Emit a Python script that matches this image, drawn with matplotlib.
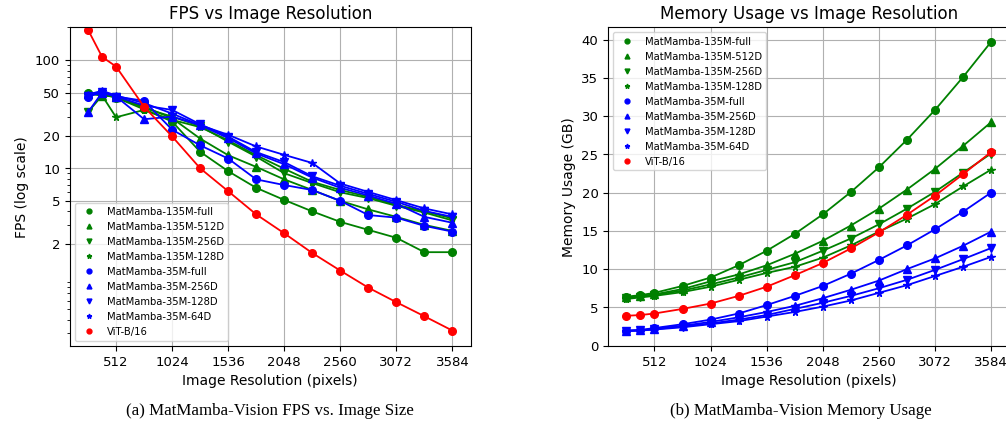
import matplotlib
matplotlib.use("Agg")
import matplotlib.pyplot as plt
from matplotlib.lines import Line2D
from matplotlib.ticker import NullFormatter, FixedLocator, FixedFormatter

# ---------------- data ----------------
resolution = [256, 384, 512, 768, 1024, 1280, 1536, 1792, 2048, 2304, 2560, 2816, 3072, 3328, 3584]
xtick_vals = [512, 1024, 1536, 2048, 2560, 3072, 3584]
fps_ticks = [2, 5, 10, 20, 50, 100]
mem_ticks = [0, 5, 10, 15, 20, 25, 30, 35, 40]

labels = ["MatMamba-135M-full", "MatMamba-135M-512D", "MatMamba-135M-256D", "MatMamba-135M-128D",
          "MatMamba-35M-full", "MatMamba-35M-256D", "MatMamba-35M-128D", "MatMamba-35M-64D", "ViT-B/16"]
colors = ["green", "green", "green", "green", "blue", "blue", "blue", "blue", "red"]
markers = ["o", "^", "v", "*", "o", "^", "v", "*", "o"]

fps_135m_full = [50, 48, 45, 35, 27, 14.2, 9.4, 6.6, 5.1, 4.0, 3.2, 2.7, 2.28, 1.68, 1.68]
fps_135m_512d = [49, 47, 46, 37, 29, 18.8, 13.2, 10.3, 7.9, 6.3, 5.0, 4.17, 3.56, 3.0, 2.64]
fps_135m_256d = [33, 47, 46, 36, 30, 24.5, 17.6, 12.8, 9.0, 7.3, 6.0, 5.3, 4.5, 3.9, 3.30]
fps_135m_128d = [50, 47, 29.6, 34.6, 28, 24.0, 18.1, 13.2, 9.9, 7.5, 6.3, 5.45, 4.6, 4.0, 3.45]
fps_35m_full = [46, 50, 46, 42, 22.7, 16.3, 12.3, 7.9, 7.0, 6.3, 5.0, 3.7, 3.5, 2.94, 2.60]
fps_35m_256d = [33, 50, 46, 28.4, 30, 25.0, 19.0, 13.7, 10.9, 8.2, 6.6, 5.6, 4.7, 3.56, 3.14]
fps_35m_128d = [47, 51, 46, 38, 34.6, 25.5, 19.6, 14.1, 11.4, 8.44, 6.9, 5.8, 4.9, 4.04, 3.56]
fps_35m_64d = [48, 52, 47, 40, 32, 25.0, 20.4, 15.9, 13.3, 11.2, 7.23, 6.05, 5.08, 4.26, 3.75]
fps_vit = [190, 107, 87, 37, 19.7, 10.0, 6.14, 3.75, 2.51, 1.65, 1.135, 0.79, 0.58, 0.43, 0.317]

mem_135m_full = [6.4, 6.6, 6.9, 7.8, 8.9, 10.5, 12.4, 14.6, 17.15, 20.07, 23.3, 26.9, 30.8, 35.1, 39.7]
mem_135m_512d = [6.3, 6.5, 6.7, 7.4, 8.4, 9.3, 10.5, 12.0, 13.7, 15.7, 17.9, 20.4, 23.1, 26.1, 29.2]
mem_135m_256d = [6.2, 6.4, 6.6, 7.2, 8.0, 8.9, 9.9, 10.9, 12.4, 14.0, 15.85, 17.9, 20.1, 22.6, 25.1]
mem_135m_128d = [6.1, 6.3, 6.5, 7.0, 7.7, 8.6, 9.5, 10.3, 11.5, 13.1, 14.9, 16.6, 18.5, 20.8, 23.0]
mem_35m_full = [1.96, 2.05, 2.3, 2.8, 3.4, 4.2, 5.3, 6.5, 7.8, 9.4, 11.2, 13.1, 15.2, 17.5, 20.0]
mem_35m_256d = [1.95, 2.0, 2.2, 2.6, 3.1, 3.7, 4.4, 5.2, 6.2, 7.3, 8.5, 10.0, 11.4, 13.05, 14.9]
mem_35m_128d = [1.93, 2.0, 2.15, 2.5, 2.9, 3.4, 4.0, 4.8, 5.6, 6.5, 7.5, 8.6, 9.9, 11.3, 12.75]
mem_35m_64d = [1.9, 1.97, 2.1, 2.4, 2.8, 3.2, 3.8, 4.4, 5.1, 5.9, 6.9, 7.9, 9.1, 10.3, 11.6]
mem_vit = [3.9, 4.0, 4.2, 4.8, 5.5, 6.5, 7.7, 9.2, 10.8, 12.7, 14.8, 17.1, 19.6, 22.4, 25.3]

fps_series = [fps_135m_full, fps_135m_512d, fps_135m_256d, fps_135m_128d,
              fps_35m_full, fps_35m_256d, fps_35m_128d, fps_35m_64d, fps_vit]
mem_series = [mem_135m_full, mem_135m_512d, mem_135m_256d, mem_135m_128d,
              mem_35m_full, mem_35m_256d, mem_35m_128d, mem_35m_64d, mem_vit]

# ---------------- figure ----------------
W, H = 1006, 432
fig = plt.figure(figsize=(W / 100 + 0.003, H / 100 + 0.003), dpi=100)

ax1 = fig.add_axes([69.8 / W, 1 - 345.7 / H, 400.7 / W, 318 / H])
ax2 = fig.add_axes([608 / W, 1 - 345.7 / H, 401 / W, 318 / H])

for ys, lab, c, m in zip(fps_series, labels, colors, markers):
    ax1.plot(resolution, ys, color=c, marker=m, markersize=5.5, linewidth=1.3, label=lab)
for ys, lab, c, m in zip(mem_series, labels, colors, markers):
    ax2.plot(resolution, ys, color=c, marker=m, markersize=5.5, linewidth=1.3, label=lab)

tick_fs = 9.5
label_fs = 10
title_fs = 12
legend_fs = 7.2

ax1.set_yscale("log")
ax1.set_ylim(top=200)
ax1.yaxis.set_major_locator(FixedLocator(fps_ticks))
ax1.yaxis.set_major_formatter(FixedFormatter([str(v) for v in fps_ticks]))
ax1.yaxis.set_minor_formatter(NullFormatter())

ax2.set_ylim(bottom=0)
ax2.set_yticks(mem_ticks)

for ax in (ax1, ax2):
    ax.set_xticks(xtick_vals)
    ax.grid(True, which="major", color="#b0b0b0", linewidth=0.8)
    ax.tick_params(labelsize=tick_fs)
    ax.set_xlabel("Image Resolution (pixels)", fontsize=label_fs)

ax1.set_ylabel("FPS (log scale)", fontsize=label_fs)
ax2.set_ylabel("Memory Usage (GB)", fontsize=label_fs)
ax1.set_title("FPS vs Image Resolution", fontsize=title_fs)
ax2.set_title("Memory Usage vs Image Resolution", fontsize=title_fs)

handles = [Line2D([], [], linestyle="None", color=c, marker=m, markersize=3.5)
           for c, m in zip(colors, markers)]
ax1.legend(handles, labels, loc="lower left", fontsize=legend_fs, framealpha=0.8)
ax2.legend(handles, labels, loc="upper left", fontsize=legend_fs, framealpha=0.8)

fig.text(270 / W, 1 - 411 / H, "(a) MatMamba-Vision FPS vs. Image Size",
         ha="center", va="center", fontsize=12.2, family="Liberation Serif")
fig.text(801 / W, 1 - 411 / H, "(b) MatMamba-Vision Memory Usage",
         ha="center", va="center", fontsize=12.2, family="Liberation Serif")

fig.savefig("out.png", dpi=100)
